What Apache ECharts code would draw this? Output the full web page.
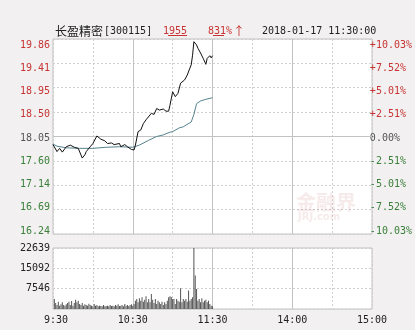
<!DOCTYPE html>
<html><head><meta charset="utf-8">
<script src="https://cdn.jsdelivr.net/npm/echarts@6/dist/echarts.min.js"></script>
<style>html,body{margin:0;padding:0;background:#f2f0f0;}#c{width:415px;height:330px;}</style>
</head><body><div id="c"></div>
<script>
// ---- data ----
const stockName = '长盈精密';
const stockCode = '[300115]';
const lastPrice = '1955';
const changePct = '831%';
const changeArrow = '↑';
const timestamp = '2018-01-17 11:30:00';
const prevClose = 18.05;
const priceMin = 16.24, priceMax = 19.86;
const priceTicks = ['16.24','16.69','17.14','17.60','18.05','18.50','18.95','19.41','19.86'];
const pctTicks = ['-10.03%','-7.52%','-5.01%','-2.51%','0.00%','+2.51%','+5.01%','+7.52%','+10.03%'];
const volMax = 22639;
const volTicks = ['', '7546', '15092', '22639'];
const timeLabels = [' 9:30', '10:30', '11:30', '14:00', '15:00'];
const hourMarks = [60, 120, 180]; // minutes since 9:30 drawn as solid lines
// minutes since 9:30
const priceTimes = [0,3,5,7,10,13,16,19,22,24,25,28,30,33,36,39,41,44,46,50,51,54,56,59,61,62,64,66,68,70,71,74,76,78,80,83,85,87,88,90,92,94,96,97,99,100,101,103,104,105,106,108,109,111,113,115,116,118,119,120];
const prices = [17.90,17.77,17.83,17.76,17.86,17.89,17.85,17.83,17.65,17.71,17.77,17.86,17.92,18.06,18.00,17.97,17.92,17.93,17.90,17.92,17.86,17.90,17.86,17.81,17.80,17.89,18.14,18.17,18.29,18.36,18.34,18.48,18.46,18.57,18.54,18.56,18.52,18.52,18.63,18.88,18.79,18.85,19.04,19.01,19.10,19.07,19.19,19.32,19.38,19.56,19.81,19.75,19.69,19.60,19.50,19.39,19.50,19.55,19.51,19.55];
const avgTimes = [0,3,10,20,30,40,50,60,65,72,78,83,88,90,95,98,104,106,108,111,115,120];
const avgPrices = [17.91,17.87,17.84,17.83,17.83,17.85,17.86,17.85,17.89,17.98,18.05,18.08,18.13,18.14,18.21,18.23,18.32,18.46,18.66,18.71,18.74,18.77];
// one bar per minute, 9:31 .. 11:30
const volumes = [
3720,2230,1490,2730,1240,1740,2480,1490,1240,1740,2230,2730,1490,2980,1240,2230,3470,2480,3100,1860,1490,2230,1240,1740,1490,1240,1980,1490,1240,990,
1860,1240,1490,990,1240,1120,990,1490,990,1120,1240,990,1490,1120,1240,990,1490,1240,1740,1120,1240,1490,990,1860,1240,1490,1120,1490,1740,1240,
1860,3100,3720,2480,3970,3100,4340,2730,3470,4710,2480,3720,2480,5580,3470,2230,3720,1860,3100,2480,1860,2730,1490,2480,1860,3100,4340,4710,4460,3720,
3720,1860,3720,3100,2730,7690,2480,3720,3100,3720,2730,6820,3100,3720,4340,22639,12400,7440,3100,3720,2480,3970,2480,3100,3470,2480,3100,1860,1240,990
];

// ---- chart ----
const RED = '#c83434', GREEN = '#3a803a', GREY = '#555555';
const MONO = '"DejaVu Sans Mono", monospace';
const priceInterval = (priceMax - priceMin) / 8;
const volInterval = volMax / 3;
const gridLine = '#cfcfcf';
const solidLine = '#c2c2c2';
function tickIdx(v, min, step) { return Math.round((v - min) / step); }
function sideColor(v) {
  const i = tickIdx(+v, priceMin, priceInterval);
  return i > 4 ? RED : (i < 4 ? GREEN : GREY);
}
const xBase = {
  type: 'value', min: 0, max: 240, interval: 30,
  axisLine: { show: false }, axisTick: { show: false },
  splitLine: { show: true, lineStyle: { color: gridLine, type: [2, 2], width: 1 } }
};
const hourLines = hourMarks.map(t => ({ xAxis: t }));
const chart = echarts.init(document.getElementById('c'), null, { renderer: 'canvas' });
chart.setOption({
  animation: false,
  backgroundColor: '#f2f0f0',
  grid: [
    { left: 53, top: 39, width: 319, height: 195, show: true, backgroundColor: '#fff', borderColor: solidLine, borderWidth: 1 },
    { left: 53, top: 248, width: 319, height: 61, show: true, backgroundColor: '#fff', borderColor: solidLine, borderWidth: 1 },
    { left: 53, top: 45, width: 319, height: 186, show: false }
  ],
  xAxis: [
    Object.assign({}, xBase, { gridIndex: 0, axisLabel: { show: false } }),
    Object.assign({}, xBase, { gridIndex: 1, axisLabel: { show: true, margin: 6, color: '#222', fontFamily: MONO, fontSize: 10,
      formatter: v => (Math.round(v) % 60 === 0 ? timeLabels[Math.round(v / 60)] : '') } }),
    { type: 'value', gridIndex: 2, min: 0, max: 240, show: false }
  ],
  yAxis: [
    { type: 'value', gridIndex: 0, min: priceMin, max: priceMax, interval: priceInterval,
      axisLine: { show: false }, axisTick: { show: false }, axisLabel: { show: false },
      splitLine: { show: true, lineStyle: { color: gridLine, type: [2, 2] } } },
    { type: 'value', gridIndex: 1, min: 0, max: volMax, interval: volInterval,
      axisLine: { show: false }, axisTick: { show: false },
      axisLabel: { show: true, margin: 3, color: '#222', fontFamily: MONO, fontSize: 10,
        formatter: v => volTicks[tickIdx(v, 0, volInterval)] || '' },
      splitLine: { show: true, lineStyle: { color: gridLine, type: [2, 2] } } },
    { type: 'value', gridIndex: 2, position: 'left', min: priceMin, max: priceMax, interval: priceInterval,
      axisLine: { show: false }, axisTick: { show: false }, splitLine: { show: false },
      axisLabel: { show: true, margin: 3, fontFamily: MONO, fontSize: 10, color: sideColor,
        formatter: v => priceTicks[tickIdx(v, priceMin, priceInterval)] } },
    { type: 'value', gridIndex: 2, position: 'right', min: priceMin, max: priceMax, interval: priceInterval,
      axisLine: { show: false }, axisTick: { show: false }, splitLine: { show: false },
      axisLabel: { show: true, margin: 1, fontFamily: MONO, fontSize: 10, color: sideColor,
        formatter: v => pctTicks[tickIdx(v, priceMin, priceInterval)] } }
  ],
  series: [
    { type: 'line', xAxisIndex: 0, yAxisIndex: 0, data: priceTimes.map((t, i) => [t, prices[i]]),
      showSymbol: false, lineStyle: { color: '#111', width: 1 }, z: 5,
      markLine: { silent: true, symbol: 'none', label: { show: false }, z: 1,
        lineStyle: { color: solidLine, type: 'solid', width: 1 },
        data: hourLines.concat([{ yAxis: prevClose }]) } },
    { type: 'line', xAxisIndex: 0, yAxisIndex: 0, data: avgTimes.map((t, i) => [t, avgPrices[i]]),
      showSymbol: false, lineStyle: { color: '#55838f', width: 1 }, z: 4 },
    { type: 'bar', xAxisIndex: 1, yAxisIndex: 1, data: volumes.map((v, i) => [i + 1, v]),
      barWidth: 1, itemStyle: { color: '#555' }, z: 5,
      markLine: { silent: true, symbol: 'none', label: { show: false }, z: 1,
        lineStyle: { color: solidLine, type: 'solid', width: 1 }, data: hourLines } }
  ],
  graphic: [
    { type: 'text', left: 296, top: 192, silent: true, z: 1,
      style: { text: '金融界', font: 'bold 20px "Noto Sans CJK SC"', fill: 'rgba(215,160,160,0.22)' } },
    { type: 'text', left: 298, top: 212, silent: true, z: 1,
      style: { text: 'JRJ.com', font: 'bold 10px "DejaVu Sans"', fill: 'rgba(215,160,160,0.22)' } },
    { type: 'text', x: 55, y: 31, style: { text: stockName, font: '12px "Noto Sans CJK SC"', fill: '#222', verticalAlign: 'middle' } },
    { type: 'text', x: 104, y: 31, style: { text: stockCode, font: '10px ' + MONO, fill: '#222', verticalAlign: 'middle' } },
    { type: 'text', x: 163, y: 31, style: { text: lastPrice, font: '10px ' + MONO, fill: RED, verticalAlign: 'middle' } },
    { type: 'line', shape: { x1: 168, y1: 35.5, x2: 187, y2: 35.5 }, style: { stroke: RED, lineWidth: 1 } },
    { type: 'text', x: 208, y: 31, style: { text: changePct, font: '10px ' + MONO, fill: RED, verticalAlign: 'middle' } },
    { type: 'text', x: 233, y: 31, style: { text: changeArrow, font: '12px "Noto Sans CJK SC"', fill: RED, verticalAlign: 'middle' } },
    { type: 'line', shape: { x1: 213, y1: 35.5, x2: 224, y2: 35.5 }, style: { stroke: RED, lineWidth: 1 } },
    { type: 'text', x: 262, y: 31, style: { text: timestamp, font: '10px ' + MONO, fill: '#222', verticalAlign: 'middle' } }
  ]
});
</script>
</body></html>
